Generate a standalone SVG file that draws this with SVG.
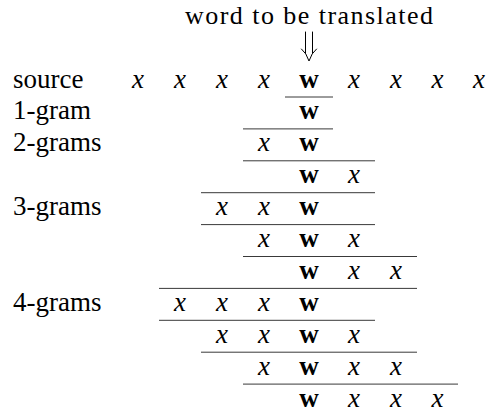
<svg xmlns="http://www.w3.org/2000/svg" width="488" height="414" viewBox="0 0 488 414">
<style>
.t{font-family:'Liberation Serif',serif;font-size:27px;fill:#000}
.x{font-style:italic;text-anchor:middle}
.w{font-weight:bold;text-anchor:middle}
.rule{stroke:#222;stroke-width:0.9;fill:none}
.arrow{stroke:#000;stroke-width:1;fill:none;stroke-linecap:round}
</style>
<g class="t">
<g id="title">
<text x="309" y="24" text-anchor="middle" font-size="26" textLength="248" lengthAdjust="spacing">word to be translated</text>
</g>
<g id="row-source">
<text x="13" y="87.5">source</text>
<text class="x" x="138" y="87.5">x</text><text class="x" x="180" y="87.5">x</text><text class="x" x="222" y="87.5">x</text><text class="x" x="264" y="87.5">x</text>
<text class="w" x="309" y="87.5">w</text>
<text class="x" x="354" y="87.5">x</text><text class="x" x="396" y="87.5">x</text><text class="x" x="437.5" y="87.5">x</text><text class="x" x="479" y="87.5">x</text>
</g>
<g id="row-1gram">
<text x="13" y="119.4">1-gram</text>
<text class="w" x="309" y="119.4">w</text>
</g>
<g id="row-2grams-a">
<text x="13" y="151.3">2-grams</text>
<text class="x" x="264" y="151.3">x</text><text class="w" x="309" y="151.3">w</text>
</g>
<g id="row-2grams-b">
<text class="w" x="309" y="183.2">w</text><text class="x" x="354" y="183.2">x</text>
</g>
<g id="row-3grams-a">
<text x="13" y="215.1">3-grams</text>
<text class="x" x="222" y="215.1">x</text><text class="x" x="264" y="215.1">x</text><text class="w" x="309" y="215.1">w</text>
</g>
<g id="row-3grams-b">
<text class="x" x="264" y="247">x</text><text class="w" x="309" y="247">w</text><text class="x" x="354" y="247">x</text>
</g>
<g id="row-3grams-c">
<text class="w" x="309" y="278.9">w</text><text class="x" x="354" y="278.9">x</text><text class="x" x="396" y="278.9">x</text>
</g>
<g id="row-4grams-a">
<text x="13" y="310.8">4-grams</text>
<text class="x" x="180" y="310.8">x</text><text class="x" x="222" y="310.8">x</text><text class="x" x="264" y="310.8">x</text><text class="w" x="309" y="310.8">w</text>
</g>
<g id="row-4grams-b">
<text class="x" x="222" y="342.7">x</text><text class="x" x="264" y="342.7">x</text><text class="w" x="309" y="342.7">w</text><text class="x" x="354" y="342.7">x</text>
</g>
<g id="row-4grams-c">
<text class="x" x="264" y="374.6">x</text><text class="w" x="309" y="374.6">w</text><text class="x" x="354" y="374.6">x</text><text class="x" x="396" y="374.6">x</text>
</g>
<g id="row-4grams-d">
<text class="w" x="309" y="406.5">w</text><text class="x" x="354" y="406.5">x</text><text class="x" x="396" y="406.5">x</text><text class="x" x="437.5" y="406.5">x</text>
</g>
</g>
<g id="connectors">
<path class="arrow" d="M305.5 32 V53 M312.5 32 V53 M301.5 49 Q306.5 53 309 61 Q311.5 53 316.5 49"/>
</g>
<g id="rules" class="rule">
<line x1="285" y1="97" x2="333" y2="97"/>
<line x1="243" y1="128.9" x2="333" y2="128.9"/>
<line x1="243" y1="160.8" x2="375" y2="160.8"/>
<line x1="201" y1="192.7" x2="375" y2="192.7"/>
<line x1="201" y1="224.6" x2="375" y2="224.6"/>
<line x1="243" y1="256.5" x2="417" y2="256.5"/>
<line x1="159" y1="288.4" x2="417" y2="288.4"/>
<line x1="159" y1="320.3" x2="375" y2="320.3"/>
<line x1="201" y1="352.2" x2="417" y2="352.2"/>
<line x1="243" y1="384.1" x2="458" y2="384.1"/>
</g>
</svg>
